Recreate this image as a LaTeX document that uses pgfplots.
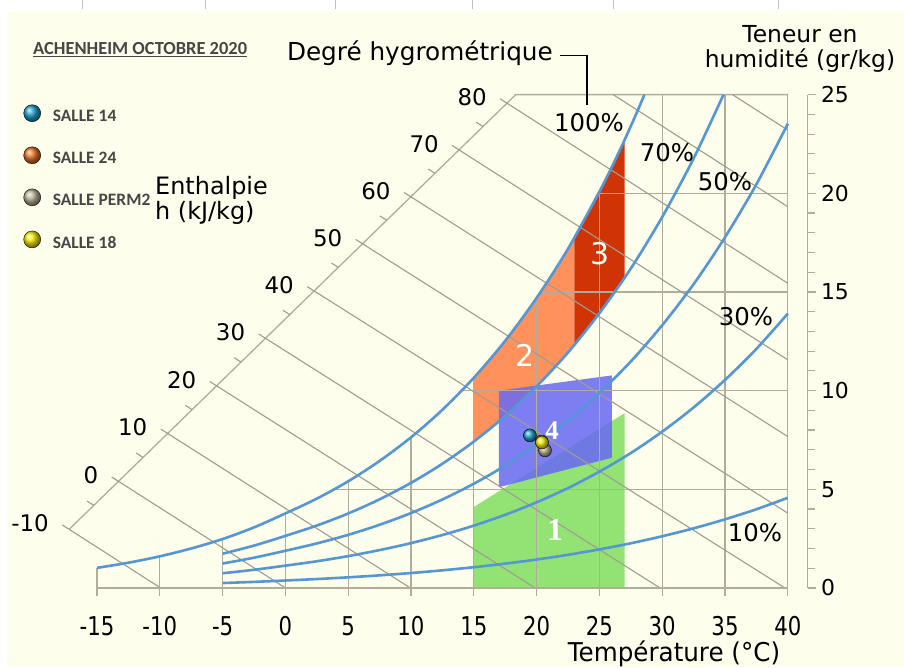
\documentclass[border=0pt]{standalone}
\usepackage{fontspec}
\setmainfont{DejaVu Sans}
\newfontfamily\carlito{Carlito}
\newfontfamily\libserif{Liberation Serif}
\usepackage{graphicx}
\usepackage{pgfplots}
\pgfplotsset{compat=1.18}
\definecolor{cream}{RGB}{254,254,236}
\definecolor{gridc}{RGB}{178,172,155}
\definecolor{hlc}{RGB}{160,156,145}
\definecolor{curve}{RGB}{84,150,214}
\definecolor{zone1}{RGB}{146,226,116}
\definecolor{zone2}{RGB}{255,146,92}
\definecolor{zone3}{RGB}{208,52,5}
\definecolor{zone4}{RGB}{104,104,245}
\definecolor{c14}{RGB}{30,160,205}
\definecolor{c24}{RGB}{230,115,35}
\definecolor{cperm}{RGB}{185,180,155}
\definecolor{c18}{RGB}{245,235,0}
\definecolor{legtxt}{RGB}{70,70,70}
\pgfdeclareplotmark{ball14}{\shade[ball color=c14] (0pt,0pt) circle (\pgfplotmarksize);}
\pgfdeclareplotmark{ball24}{\shade[ball color=c24] (0pt,0pt) circle (\pgfplotmarksize);}
\pgfdeclareplotmark{ballperm}{\shade[ball color=cperm] (0pt,0pt) circle (\pgfplotmarksize);}
\pgfdeclareplotmark{ball18}{\shade[ball color=c18] (0pt,0pt) circle (\pgfplotmarksize);}
\newcommand\lab{\fontsize{24.8}{24.8}\selectfont}
\newcommand\hlab{\fontsize{23}{23}\selectfont}
\begin{document}
\begin{tikzpicture}
\fill[white] (-97bp,-79.5bp) rectangle (807bp,587.5bp);
\fill[cream] (-90bp,-79.5bp) rectangle (807bp,575.5bp);
\foreach \px in {-15,108,238,375,516,681} \draw[black!25, line width=0.8bp] (\px bp,587.5bp) -- ++(0,-9bp);
\begin{axis}[
  x=12.56bp, y=19.73bp, xmin=-15, xmax=40, ymin=0, ymax=25,
  axis x line*=bottom, axis y line*=right,
  axis y line shift=20bp,
  clip=false, axis on top,
  axis line style={gridc, line width=1.3bp},
  xtick={-15,-10,...,40}, ytick={0,5,...,25}, minor y tick num=4,
  tick align=outside, major tick length=8bp, minor tick length=7bp,
  tick style={gridc, line width=1.2bp},
  /pgf/number format/assume math mode=true,
  xticklabel={\scalebox{0.82}[1]{\pgfmathprintnumber{\tick}}},
  xticklabel style={font=\fontsize{26}{26}\selectfont, text=black, yshift=-17bp},
  yticklabel style={font=\fontsize{22}{22}\selectfont, text=black, anchor=west, inner sep=0pt, xshift=5bp},
  legend style={at={(axis cs:-20.852,24.50)}, anchor=north west, draw=none, fill=none,
    inner sep=0pt, outer sep=0pt, row sep=23.4bp, column sep=12bp,
    font=\carlito\bfseries\fontsize{17.5}{17.5}\selectfont, text=legtxt,
    nodes={inner sep=0pt}},
  legend cell align=left,
  legend image code/.code={\draw[#1] plot coordinates {(0bp,3.5bp)};},
]
% ---- zones
\addplot[draw=none, fill=zone1, forget plot] coordinates {(15,0) (27,0) (27,8.85) (15,4.1)} -- cycle;
\addplot[draw=none, fill=zone2, forget plot] coordinates {(15,7.417) (15,10.650) (16,11.369) (17,12.129) (18,12.938) (19,13.791) (20,14.699) (21,15.656) (22,16.670) (23,17.744) (23,12.316) (22,11.576) (21,10.877) (20,10.217) (19,9.590) (18,9.001) (17,8.441) (16,7.915)} -- cycle;
\addplot[draw=none, fill=zone3, forget plot] coordinates {(23,12.316) (23,17.744) (24,18.88) (25,20.086) (26,21.353) (27,22.696) (27,15.71) (26,14.794) (25,13.925) (24,13.097)} -- cycle;
\addplot[draw=none, fill=zone4, fill opacity=0.85, forget plot] coordinates {(17,5.1) (26,6.6) (26,10.77) (17,10.0)} -- cycle;
% ---- grid below saturation
\addplot[gridc, line width=1.3bp, forget plot] coordinates {(-15,0) (-15,1.015)};
\addplot[gridc, line width=1.3bp, forget plot] coordinates {(-10,0) (-10,1.600)};
\addplot[gridc, line width=1.3bp, forget plot] coordinates {(-5,0) (-5,2.476)};
\addplot[gridc, line width=1.3bp, forget plot] coordinates {(0,0) (0,3.775)};
\addplot[gridc, line width=1.3bp, forget plot] coordinates {(5,0) (5,5.403)};
\addplot[gridc, line width=1.3bp, forget plot] coordinates {(10,0) (10,7.632)};
\addplot[gridc, line width=1.3bp, forget plot] coordinates {(15,0) (15,10.650)};
\addplot[gridc, line width=1.3bp, forget plot] coordinates {(20,0) (20,14.699)};
\addplot[gridc, line width=1.3bp, forget plot] coordinates {(25,0) (25,20.086)};
\addplot[gridc, line width=1.3bp, forget plot] coordinates {(30,0) (30,25)};
\addplot[gridc, line width=1.3bp, forget plot] coordinates {(35,0) (35,25)};
\addplot[gridc, line width=1.3bp, forget plot] coordinates {(40,0) (40,25)};
\addplot[gridc, line width=1.3bp, forget plot] coordinates {(3.85,5) (40,5)};
\addplot[gridc, line width=1.3bp, forget plot] coordinates {(14.0,10) (40,10)};
\addplot[gridc, line width=1.3bp, forget plot] coordinates {(20.3,15) (40,15)};
\addplot[gridc, line width=1.3bp, forget plot] coordinates {(24.93,20) (40,20)};
\addplot[gridc, line width=1.3bp, forget plot] coordinates {(-17.219,2.966) (18.34,25) (40,25)};
% ---- enthalpy lines
\addplot[hlc, line width=1.1bp, forget plot] coordinates {(-17.76,3.19) (-9.94,0)};
\addplot[hlc, line width=1.1bp, forget plot] coordinates {(-13.83,5.62) (0,0)};
\addplot[hlc, line width=1.1bp, forget plot] coordinates {(-9.92,8.05) (9.94,0)};
\addplot[hlc, line width=1.1bp, forget plot] coordinates {(-6.02,10.46) (19.88,0)};
\addplot[hlc, line width=1.1bp, forget plot] coordinates {(-2.13,12.87) (29.82,0)};
\addplot[hlc, line width=1.1bp, forget plot] coordinates {(1.74,15.27) (39.76,0)};
\addplot[hlc, line width=1.1bp, forget plot] coordinates {(5.60,17.66) (40,3.79)};
\addplot[hlc, line width=1.1bp, forget plot] coordinates {(9.45,20.04) (40,7.67)};
\addplot[hlc, line width=1.1bp, forget plot] coordinates {(13.28,22.42) (40,11.56)};
\addplot[hlc, line width=1.1bp, forget plot] coordinates {(17.10,24.79) (40,15.44)};
\addplot[hlc, line width=1.1bp, forget plot] coordinates {(26.10,25) (40,19.32)};
\addplot[hlc, line width=1.1bp, forget plot] coordinates {(35.60,25) (40,23.20)};
% minor ticks of the enthalpy scale
\addplot[hlc, line width=1.1bp, forget plot] coordinates {(-15.254,4.183) (-15.794,4.403)};
\addplot[hlc, line width=1.1bp, forget plot] coordinates {(-11.334,6.613) (-11.874,6.833)};
\addplot[hlc, line width=1.1bp, forget plot] coordinates {(-7.427,9.033) (-7.967,9.253)};
\addplot[hlc, line width=1.1bp, forget plot] coordinates {(-3.534,11.446) (-4.074,11.666)};
\addplot[hlc, line width=1.1bp, forget plot] coordinates {(0.347,13.850) (-0.193,14.070)};
\addplot[hlc, line width=1.1bp, forget plot] coordinates {(4.213,16.246) (3.673,16.466)};
\addplot[hlc, line width=1.1bp, forget plot] coordinates {(8.066,18.633) (7.526,18.853)};
\addplot[hlc, line width=1.1bp, forget plot] coordinates {(11.906,21.012) (11.366,21.232)};
\addplot[hlc, line width=1.1bp, forget plot] coordinates {(15.733,23.383) (15.193,23.603)};
% ---- relative humidity curves
\addplot[curve, line width=2.6bp, smooth, forget plot] coordinates {(-15,1.015) (-12.5,1.277) (-10,1.600) (-7.5,1.998) (-5,2.476) (-2.5,3.067) (0,3.775) (2.5,4.524) (5,5.403) (7.5,6.435) (10,7.632) (12.5,9.028) (15,10.650) (17.5,12.523) (20,14.699) (22.5,17.186) (25,20.086) (26,21.353) (27,22.696) (28,24.124) (28.58,25)};
\addplot[curve, line width=2.6bp, smooth, forget plot] coordinates {(-5,1.731) (-2.5,2.144) (0,2.637) (2.5,3.160) (5,3.772) (7.5,4.491) (10,5.323) (12.5,6.293) (15,7.417) (17.5,8.714) (20,10.217) (22.5,11.932) (25,13.925) (27.5,16.187) (30,18.800) (32.5,21.765) (34.88,25)};
\addplot[curve, line width=2.6bp, smooth, forget plot] coordinates {(-5,1.236) (-2.5,1.530) (0,1.882) (2.5,2.254) (5,2.690) (7.5,3.201) (10,3.793) (12.5,4.482) (15,5.280) (17.5,6.199) (20,7.264) (22.5,8.476) (25,9.884) (27.5,11.477) (30,13.314) (32.5,15.393) (35,17.771) (37.5,20.458) (40,23.524)};
\addplot[curve, line width=2.6bp, smooth, forget plot] coordinates {(-5,0.741) (-2.5,0.918) (0,1.128) (2.5,1.350) (5,1.611) (7.5,1.917) (10,2.270) (12.5,2.681) (15,3.157) (17.5,3.705) (20,4.338) (22.5,5.058) (25,5.893) (27.5,6.835) (30,7.920) (32.5,9.145) (35,10.542) (37.5,12.115) (40,13.904)};
\addplot[curve, line width=2.6bp, smooth, forget plot] coordinates {(-5,0.247) (-2.5,0.305) (0,0.375) (2.5,0.449) (5,0.536) (7.5,0.637) (10,0.754) (12.5,0.891) (15,1.049) (17.5,1.229) (20,1.439) (22.5,1.677) (25,1.952) (27.5,2.262) (30,2.618) (32.5,3.019) (35,3.475) (37.5,3.987) (40,4.567)};
% ---- measurements
\addplot[only marks, mark=ballperm, mark size=6.5bp, forget plot] coordinates {(20.67,6.97)};
\addplot[only marks, mark=ball24, mark size=6.5bp, forget plot] coordinates {(20.40,7.42)};
\addplot[only marks, mark=ball18, mark size=6.5bp, forget plot] coordinates {(20.43,7.37)};
\addplot[only marks, mark=ball14, mark size=6.5bp, forget plot] coordinates {(19.47,7.73)};
\addlegendimage{only marks, mark=ball14, mark size=8.5bp}
\addlegendentry{SALLE 14}
\addlegendimage{only marks, mark=ball24, mark size=8.5bp}
\addlegendentry{SALLE 24}
\addlegendimage{only marks, mark=ballperm, mark size=8.5bp}
\addlegendentry{SALLE PERM2}
\addlegendimage{only marks, mark=ball18, mark size=8.5bp}
\addlegendentry{SALLE 18}
% ---- enthalpy scale labels
\node[anchor=east, xshift=-10bp, yshift=1.5bp, font=\hlab] at (axis cs:-17.76,3.19) {-10};
\node[anchor=east, xshift=-10bp, yshift=1.5bp, font=\hlab] at (axis cs:-13.83,5.62) {0};
\node[anchor=east, xshift=-10bp, yshift=1.5bp, font=\hlab] at (axis cs:-9.92,8.05) {10};
\node[anchor=east, xshift=-10bp, yshift=1.5bp, font=\hlab] at (axis cs:-6.02,10.46) {20};
\node[anchor=east, xshift=-10bp, yshift=1.5bp, font=\hlab] at (axis cs:-2.13,12.87) {30};
\node[anchor=east, xshift=-10bp, yshift=1.5bp, font=\hlab] at (axis cs:1.74,15.27) {40};
\node[anchor=east, xshift=-10bp, yshift=1.5bp, font=\hlab] at (axis cs:5.60,17.66) {50};
\node[anchor=east, xshift=-10bp, yshift=1.5bp, font=\hlab] at (axis cs:9.45,20.04) {60};
\node[anchor=east, xshift=-10bp, yshift=1.5bp, font=\hlab] at (axis cs:13.28,22.42) {70};
\node[anchor=east, xshift=-10bp, yshift=1.5bp, font=\hlab] at (axis cs:17.10,24.79) {80};
\end{axis}
% ---- texts
\node[anchor=base east, font=\lab, inner sep=0pt] at (456bp,527.5bp) {Degré hygrométrique};
\draw[black, line width=1.6bp] (463bp,532.5bp) -- (490bp,532.5bp) -- (490bp,482.5bp);
\node[align=center, font=\fontsize{23.5}{25}\selectfont, inner sep=0pt] at (703bp,539bp) {Teneur en\\humidité (gr/kg)};
\node[align=left, anchor=west, font=\fontsize{24}{23}\selectfont, inner sep=0pt] at (58bp,387.5bp) {Enthalpie\\h (kJ/kg)};
\node[anchor=base, inner sep=0pt, font=\fontsize{26}{26}\selectfont] at (577bp,-73.5bp) {\scalebox{0.95}[1]{Température (°C)}};
\node[font=\fontsize{24.5}{24.5}\selectfont, inner sep=0pt] at (492bp,465bp) {100\%};
\node[font=\fontsize{24.5}{24.5}\selectfont, inner sep=0pt] at (570bp,435.5bp) {70\%};
\node[font=\fontsize{24.5}{24.5}\selectfont, inner sep=0pt] at (628bp,406.5bp) {50\%};
\node[font=\fontsize{24.5}{24.5}\selectfont, inner sep=0pt] at (649bp,271.5bp) {30\%};
\node[font=\fontsize{24.5}{24.5}\selectfont, inner sep=0pt] at (658bp,55bp) {10\%};
\node[text=white, font=\libserif\bfseries\fontsize{32}{32}\selectfont, inner sep=0pt] at (458bp,57.5bp) {1};
\node[text=white, font=\fontsize{30}{30}\selectfont, inner sep=0pt] at (428bp,232.5bp) {2};
\node[text=white, font=\fontsize{30}{30}\selectfont, inner sep=0pt] at (503bp,334.5bp) {3};
\node[text=white, font=\libserif\bfseries\fontsize{27}{27}\selectfont, inner sep=0pt] at (455bp,157.5bp) {4};
\node[anchor=west, inner sep=0pt, text=legtxt, font=\carlito\bfseries\fontsize{18.5}{18.5}\selectfont] at (-64bp,538.5bp) {\underline{ACHENHEIM OCTOBRE 2020}};
\end{tikzpicture}
\end{document}
